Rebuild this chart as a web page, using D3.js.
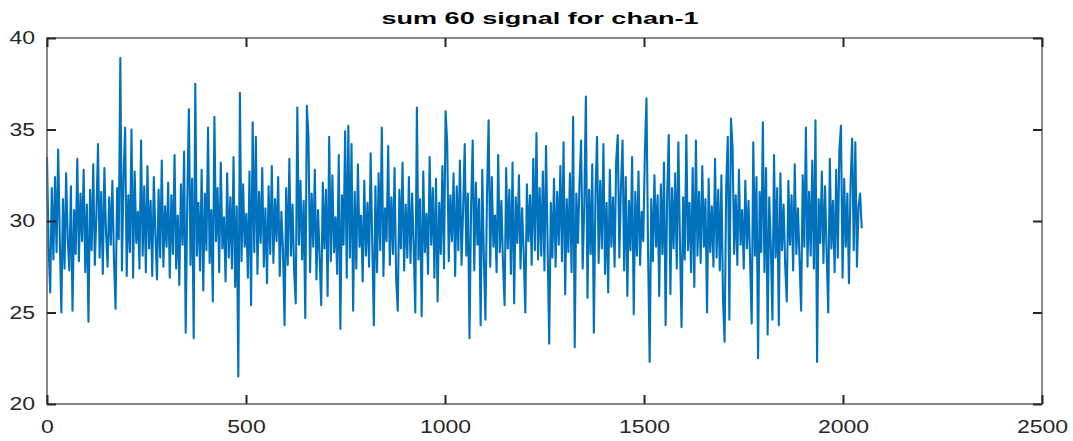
<!DOCTYPE html>
<head>
    <style>
        body { margin: 0; background: #fff; }
        .tick text {
            font: 18px "Liberation Sans", Arial, sans-serif;
            fill: #262626;
        }
        .tick line {
            stroke: #262626;
            stroke-width: 2;
        }
        .title {
            font: bold 16px "Liberation Sans", Arial, sans-serif;
            fill: #000;
            text-anchor: middle;
        }
    </style>
    <script src="https://d3js.org/d3.v7.min.js"></script>
</head>
<body>
    <svg width="1073" height="441"></svg>
    <script>
        // chart values (one reading every 4 samples)
        var titleText = "sum 60 signal for chan-1";
        var sampleCount = 2048;
        var xTicks = [0, 500, 1000, 1500, 2000, 2500];
        var yTicks = [20, 25, 30, 35, 40];
        var signal = [
            33.5,28.6,26.1,31.8,27.9,32.4,28.3,33.9,29.1,25.0,31.2,27.4,32.6,29.0,27.3,31.9,
            25.1,30.6,28.2,33.4,27.8,31.5,28.9,32.8,27.2,30.9,24.5,31.7,28.4,33.1,27.6,30.4,
            34.2,28.0,31.6,27.1,32.9,29.4,27.5,31.3,28.7,32.2,27.9,25.2,31.8,29.0,38.9,27.3,
            32.5,35.1,27.0,31.4,28.3,35.0,26.9,32.7,28.8,30.5,27.4,34.4,28.1,31.9,27.2,33.0,
            28.5,31.1,27.0,32.4,29.2,26.8,31.7,28.0,33.3,27.5,30.8,28.6,32.1,26.9,31.4,28.2,
            33.6,27.4,30.3,26.5,32.0,28.7,33.8,23.9,31.2,36.1,27.6,32.3,23.6,37.5,28.1,31.0,
            27.3,32.8,26.2,31.5,28.4,35.1,27.7,30.6,25.6,35.7,28.9,31.8,27.2,33.2,28.5,30.2,
            26.7,32.6,28.0,31.3,27.4,33.5,26.4,30.8,21.5,37.0,27.8,32.0,28.6,30.4,26.9,32.7,
            25.4,35.4,28.3,34.6,27.1,31.6,28.8,32.9,27.5,30.7,26.6,31.9,28.2,33.0,27.7,31.2,
            28.9,32.4,27.0,30.5,28.4,24.3,31.8,27.6,33.4,28.1,30.9,27.3,25.5,36.2,28.7,32.2,
            27.9,31.1,24.7,36.3,34.6,27.2,31.5,28.6,32.8,26.8,30.6,28.0,25.4,32.1,28.5,31.7,
            25.9,34.6,27.8,32.5,28.3,30.2,27.1,33.6,24.1,31.4,28.7,34.9,26.9,35.2,28.0,34.2,
            25.1,31.6,27.4,33.1,28.6,30.3,26.7,32.2,28.1,31.0,27.5,33.7,28.8,24.3,31.9,27.2,
            32.6,28.4,35.1,27.0,30.7,28.9,34.1,27.6,31.3,28.2,32.9,26.8,25.1,31.7,28.5,33.2,
            27.3,30.9,28.0,32.4,27.7,31.5,28.6,25.0,36.2,27.9,31.2,24.8,32.7,28.3,30.4,27.1,
            33.5,28.7,31.8,26.9,32.3,25.6,31.0,28.2,33.0,27.4,36.0,34.3,27.8,31.4,28.9,32.6,
            27.0,31.9,28.4,33.3,27.6,30.6,34.2,28.1,31.5,23.6,30.8,34.4,27.3,32.1,28.7,31.2,
            24.3,32.8,28.0,24.6,31.6,35.5,27.5,32.4,28.6,30.3,27.2,33.6,28.3,31.1,27.7,25.4,
            32.9,28.5,31.7,27.1,33.2,25.5,31.3,28.8,32.5,27.4,30.7,28.2,25.0,32.0,28.9,31.4,
            27.6,33.4,28.4,34.8,27.9,31.8,28.1,32.7,27.3,34.1,28.6,23.3,31.0,28.0,32.3,27.5,
            31.6,28.7,33.0,27.8,34.3,26.0,31.2,28.3,32.6,27.2,35.7,23.1,31.5,28.8,32.1,34.4,
            27.4,30.9,36.8,25.8,31.7,28.2,33.1,23.9,31.4,34.6,27.7,32.2,28.5,34.2,27.1,31.0,
            26.1,32.8,28.6,31.3,27.5,33.3,34.7,28.0,31.9,34.4,27.3,32.4,25.9,31.1,28.4,33.5,
            24.9,31.6,28.1,32.7,27.6,30.5,28.9,33.8,36.7,28.3,22.3,31.2,27.8,32.5,28.6,31.4,
            25.9,32.0,28.2,33.2,24.3,31.5,34.7,26.0,31.8,28.5,32.6,27.4,34.3,28.8,24.2,31.3,
            27.9,34.7,28.4,31.0,27.2,32.9,26.4,34.4,28.1,31.6,27.7,33.0,28.6,31.2,25.0,32.3,
            28.3,30.8,27.5,33.4,28.0,31.7,27.3,32.5,25.7,23.4,31.9,34.6,24.6,35.6,34.0,28.2,
            31.4,27.6,32.8,28.7,30.6,27.4,32.2,28.5,31.1,27.8,24.4,34.3,28.1,32.4,22.5,31.6,
            28.3,35.4,27.2,32.9,23.8,31.3,28.6,24.6,33.6,28.0,31.8,24.3,32.6,28.4,30.9,27.6,
            25.6,32.2,28.7,31.4,27.3,33.1,28.2,30.7,27.9,25.1,32.5,28.6,35.1,27.5,31.6,28.1,
            33.3,27.4,35.5,22.3,31.2,28.8,32.7,27.7,31.9,28.3,25.0,33.4,28.5,31.1,27.2,32.8,
            28.0,33.9,35.2,26.9,32.3,28.6,31.5,26.6,32.0,34.5,28.4,34.3,27.5,30.8,31.5,29.6
        ];

        var svg = d3.select("svg"),
            plotLeft = 47, plotRight = 1042, plotTop = 38, plotBottom = 404;

        svg.append("rect")
           .attr("width", 1073).attr("height", 441).attr("fill", "#fff");

        var x = d3.scaleLinear().domain([0, 2500]).range([plotLeft, plotRight]);
        var y = d3.scaleLinear().domain([20, 40]).range([plotBottom, plotTop]);

        var step = (sampleCount - 1) / (signal.length - 1);

        var line = d3.line()
                     .x(function(d, i) { return x(i * step); })
                     .y(function(d) { return y(d); });

        svg.append("path")
           .datum(signal)
           .attr("d", line)
           .attr("fill", "none")
           .attr("stroke", "#0072BD")
           .attr("stroke-width", 2.1)
           .attr("stroke-linejoin", "round");

        // box
        svg.append("rect")
           .attr("x", plotLeft).attr("y", plotTop)
           .attr("width", plotRight - plotLeft).attr("height", plotBottom - plotTop)
           .attr("fill", "none")
           .attr("stroke", "#606060")
           .attr("stroke-width", 1.5);

        function stretch(sel) {
            // the reference text is drawn a bit wider than normal
            sel.selectAll(".tick text")
               .attr("textLength", function(d) { return String(d).length * 12.8; })
               .attr("lengthAdjust", "spacingAndGlyphs");
        }

        var fmt = d3.format("d");

        svg.append("g")
           .attr("transform", "translate(0," + plotBottom + ")")
           .call(d3.axisBottom(x).tickValues(xTicks).tickFormat(fmt).tickSizeInner(-9).tickSizeOuter(0).tickPadding(16))
           .call(stretch)
           .call(function(g) { g.select(".domain").remove(); });

        svg.append("g")
           .attr("transform", "translate(" + plotLeft + ",0)")
           .call(d3.axisLeft(y).tickValues(yTicks).tickFormat(fmt).tickSizeInner(-9).tickSizeOuter(0).tickPadding(12))
           .call(stretch)
           .call(function(g) { g.select(".domain").remove(); });

        svg.append("g")
           .attr("transform", "translate(0," + plotTop + ")")
           .call(d3.axisTop(x).tickValues(xTicks).tickSizeInner(-9).tickSizeOuter(0).tickFormat(""))
           .call(function(g) { g.select(".domain").remove(); });

        svg.append("g")
           .attr("transform", "translate(" + plotRight + ",0)")
           .call(d3.axisRight(y).tickValues(yTicks).tickSizeInner(-9).tickSizeOuter(0).tickFormat(""))
           .call(function(g) { g.select(".domain").remove(); });

        svg.selectAll("g").attr("font-family", null).attr("font-size", null);

        svg.append("text")
           .attr("class", "title")
           .attr("x", 540)
           .attr("y", 24)
           .attr("textLength", 317)
           .attr("lengthAdjust", "spacingAndGlyphs")
           .text(titleText);
    </script>
</body>
</html>
